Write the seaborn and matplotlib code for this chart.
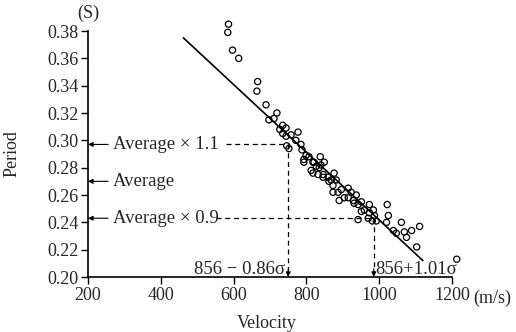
import matplotlib
matplotlib.use('Agg')
import matplotlib.pyplot as plt
import seaborn as sns
import pandas as pd

# velocity (m/s) and period (s)
velocity = [586, 584, 597, 614, 666, 664, 689, 697, 711, 719, 735, 727, 744, 735, 744,
            758, 777, 746, 752, 788, 793, 807, 838, 818, 827, 849, 799, 813, 835, 840,
            832, 846, 860, 862, 876, 882, 873, 873, 887, 896, 904, 915, 923, 929, 937,
            942, 951, 959, 973, 984, 987, 970, 942, 981, 992, 1022, 1025, 1020, 1061, 1039,
            1047, 1069, 1089, 1075, 1111, 1103, 1213, 793, 821, 818, 846, 868, 890, 915, 931,
            951, 973, 785, 771]
period = [0.385, 0.379, 0.366, 0.360, 0.343, 0.336, 0.326, 0.315, 0.316, 0.320, 0.311, 0.308, 0.309, 0.305, 0.303,
          0.304, 0.306, 0.296, 0.294, 0.293, 0.286, 0.288, 0.288, 0.284, 0.281, 0.284, 0.289, 0.278, 0.280, 0.282,
          0.275, 0.273, 0.273, 0.270, 0.276, 0.271, 0.267, 0.262, 0.262, 0.264, 0.258, 0.265, 0.262, 0.256, 0.260,
          0.253, 0.255, 0.249, 0.253, 0.249, 0.245, 0.243, 0.242, 0.241, 0.241, 0.253, 0.245, 0.240, 0.240, 0.234,
          0.232, 0.233, 0.234, 0.229, 0.237, 0.222, 0.213, 0.284, 0.284, 0.276, 0.275, 0.271, 0.256, 0.258, 0.254,
          0.248, 0.247, 0.297, 0.300]

# fitted line end points
line_v = [462, 1120]
line_p = [0.375, 0.212]

avg_period = 0.27
vel_low = 750    # 856 - 0.86 sigma
vel_high = 985   # 856 + 1.01 sigma

x_ticks = [200, 400, 600, 800, 1000, 1200]
y_ticks = [0.20, 0.22, 0.24, 0.26, 0.28, 0.30, 0.32, 0.34, 0.36, 0.38]

sns.set_style('ticks')
plt.rcParams['font.family'] = ['Liberation Serif', 'DejaVu Serif']

df = pd.DataFrame({'Velocity': velocity, 'Period': period})

fig = plt.figure(figsize=(5.16, 3.32), dpi=100)
ax = fig.add_axes([88 / 516, 55 / 332, 364 / 516, 246 / 332])

sns.scatterplot(data=df, x='Velocity', y='Period', marker='o', s=20,
                facecolor='none', edgecolor='black', linewidth=0.9, ax=ax, clip_on=False)
sns.lineplot(x=line_v, y=line_p, color='black', lw=1.2, ax=ax)

fs_tick = 13
ax.set_xlim(200, 1200)
ax.set_ylim(0.20, 0.38)
ax.set_xticks(x_ticks)
ax.set_xticklabels([str(t) for t in x_ticks], fontsize=fs_tick)
ax.set_yticks(y_ticks)
ax.set_yticklabels([f'{t:.2f}' for t in y_ticks], fontsize=fs_tick)
ax.tick_params(direction='out', length=5, width=1, color='black', pad=2)
for s in ['top', 'right']:
    ax.spines[s].set_visible(False)
for s in ['left', 'bottom']:
    ax.spines[s].set_linewidth(1.2)
    ax.spines[s].set_color('black')

ax.set_xlabel('Velocity', fontsize=fs_tick)
ax.set_ylabel('Period', fontsize=fs_tick)
ax.xaxis.set_label_coords(0.49, -0.155)
ax.yaxis.set_label_coords(-0.185, 0.50)
ax.text(0.0, 1.073, '(S)', transform=ax.transAxes, ha='center', va='center', fontsize=fs_tick)
ax.text(1.11, -0.085, '(m/s)', transform=ax.transAxes, ha='center', va='center', fontsize=fs_tick)

arrow = dict(arrowstyle='-|>', color='black', lw=0.8, mutation_scale=7, shrinkA=1, shrinkB=0)
fs = 13.5
ax.annotate('Average \u00d7 1.1', xy=(200, avg_period * 1.1), xytext=(268, avg_period * 1.1),
            ha='left', va='center', fontsize=fs, arrowprops=arrow)
ax.annotate('Average', xy=(200, avg_period), xytext=(268, avg_period),
            ha='left', va='center', fontsize=fs, arrowprops=arrow)
ax.annotate('Average \u00d7 0.9', xy=(200, avg_period * 0.9), xytext=(268, avg_period * 0.9),
            ha='left', va='center', fontsize=fs, arrowprops=arrow)

dash = dict(color='black', lw=0.9, ls=(0, (4, 3)))
ax.plot([578, vel_low], [avg_period * 1.1] * 2, **dash)
ax.plot([vel_low, vel_low], [avg_period * 1.1, 0.203], **dash)
ax.plot([552, vel_high], [avg_period * 0.9] * 2, **dash)
ax.plot([vel_high, vel_high], [avg_period * 0.9, 0.203], **dash)
down = dict(arrowstyle='-|>', color='black', lw=0.8, mutation_scale=7, shrinkA=0, shrinkB=0)
ax.annotate('', xy=(vel_low, 0.2), xytext=(vel_low, 0.206), arrowprops=down)
ax.annotate('', xy=(vel_high, 0.2), xytext=(vel_high, 0.206), arrowprops=down)

ax.text(vel_low - 8, 0.2055, '856 \u2212 0.86\u03c3', ha='right', va='center', fontsize=fs)
ax.text(vel_high + 3, 0.2055, '856+1.01\u03c3', ha='left', va='center', fontsize=fs)

fig.savefig('out.png', dpi=100)
